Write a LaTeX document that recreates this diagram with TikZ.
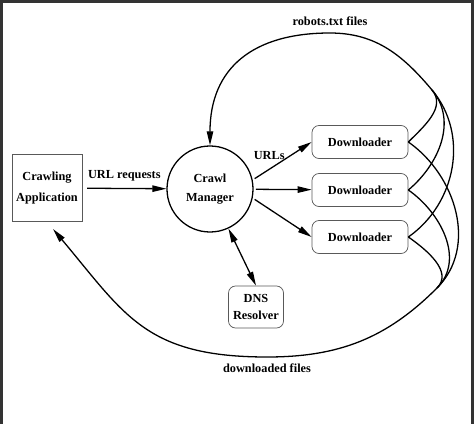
\documentclass[tikz,border=0pt]{standalone}
\usepackage{fontspec}
\setmainfont{Liberation Serif}
\usetikzlibrary{arrows.meta, positioning}

\begin{document}
\begin{tikzpicture}[
  x=0.03cm, y=-0.03cm,
  box/.style={rectangle, draw=black!65, line width=0.6pt, align=center},
  appbox/.style={box, minimum width=2.1cm, minimum height=2.01cm, font=\fontsize{10.5}{18}\selectfont\bfseries},
  mgrnode/.style={circle, draw, line width=1.1pt, minimum size=2.58cm, align=center, font=\fontsize{10.5}{16.5}\selectfont\bfseries},
  dlbox/.style={box, rounded corners=6pt, minimum width=2.88cm, minimum height=0.99cm, font=\fontsize{10.5}{13}\selectfont\bfseries},
  dnsbox/.style={box, rounded corners=6pt, minimum width=1.65cm, minimum height=1.26cm, font=\fontsize{10.5}{14.2}\selectfont\bfseries},
  arr/.style={-{Triangle[length=12pt, width=5.5pt]}, line width=1.1pt},
  biarr/.style={{Triangle[length=12pt, width=5.5pt]}-{Triangle[length=12pt, width=5.5pt]}, line width=1.1pt},
  feed/.style={line width=1.1pt},
  lbl/.style={font=\fontsize{10.5}{13}\selectfont\bfseries, inner sep=1pt},
  frameline/.style={line width=2.5pt, black!80},
]
\useasboundingbox (0,0) rectangle (474,424);
\draw[frameline] (1.5,424) -- (1.5,1.2) -- (472.5,1.2) -- (472.5,424);

\node[appbox]  (app) at (47,188)  {Crawling\\Application};
\node[mgrnode] (mgr) at (210,189) {Crawl\\Manager};
\node[dlbox]   (dl1) at (360,142) {Downloader};
\node[dlbox]   (dl2) at (360,190) {Downloader};
\node[dlbox]   (dl3) at (360,237) {Downloader};
\node[dnsbox]  (dns) at (256,307) {DNS\\Resolver};

\coordinate (topjoin) at (432,90);
\coordinate (robtop)  at (330,33);
\coordinate (botjoin) at (437,288);
\coordinate (dlbot)   at (267,357);

\draw[arr, shorten <=4pt] (app) -- node[lbl, above=5pt]{URL requests} (mgr);
\draw[arr, shorten <=2pt] (mgr.12) -- node[lbl, pos=0.28, above=7pt]{URLs} (dl1.west);
\draw[arr, shorten <=2pt] (mgr) -- (dl2);
\draw[arr, shorten <=2pt] (mgr.-12) -- (dl3.west);
\draw[biarr] (mgr.-65) -- (dns.north);

\draw[feed] (dl1.east) to[out=45, in=-50] (topjoin);
\draw[feed] (dl2.east) to[out=40, in=-50] (topjoin);
\draw[feed] (dl3.east) to[out=35, in=-50] (topjoin);
\draw[arr] (topjoin) to[out=130, in=0] (robtop) to[out=180, in=90, looseness=1.2] (mgr.north);
\node[lbl, above=5pt of robtop] {robots.txt files};

\draw[feed] (dl1.east) to[out=-35, in=45] (botjoin);
\draw[feed] (dl2.east) to[out=-35, in=45] (botjoin);
\draw[feed] (dl3.east) to[out=-35, in=45] (botjoin);
\draw[arr, shorten >=8pt] (botjoin) to[out=225, in=0] (dlbot) to[out=180, in=-50, looseness=1.2] (app.south);
\node[lbl, below=5pt of dlbot] {downloaded files};
\end{tikzpicture}
\end{document}
